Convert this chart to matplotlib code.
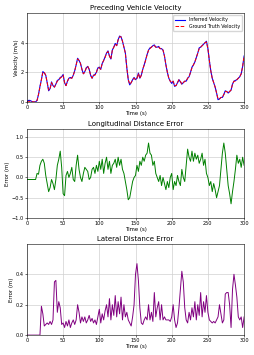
import matplotlib
matplotlib.use('Agg')
import matplotlib.pyplot as plt
import numpy as np

# time axis, 2 s steps
time_s = np.arange(0, 301, 2)

# preceding vehicle velocity (m/s)
vel_truth = [0.0, 0.0, 0.05, 0.05, 0.0, 0.0, 0.0, 0.1, 0.5, 1.0,
             1.5, 2.0, 2.0, 1.8, 1.3, 0.8, 0.9, 1.3, 1.1, 1.0,
             1.2, 1.4, 1.5, 1.6, 1.7, 1.8, 1.3, 1.1, 1.4, 1.6,
             1.6, 1.6, 1.8, 2.1, 2.5, 2.9, 2.8, 2.6, 2.2, 1.9,
             2.0, 2.3, 2.4, 2.2, 1.8, 1.6, 1.8, 1.8, 2.0, 2.3,
             2.3, 2.2, 2.6, 2.8, 3.0, 3.3, 3.4, 3.1, 2.9, 3.5,
             3.7, 3.9, 3.8, 4.2, 4.4, 4.4, 4.1, 3.7, 3.3, 2.3,
             1.5, 1.2, 1.3, 1.5, 1.6, 1.5, 1.6, 1.9, 1.6, 1.8,
             2.2, 2.5, 2.8, 3.2, 3.5, 3.6, 3.7, 3.8, 3.8, 3.7,
             3.7, 3.7, 3.6, 3.6, 3.5, 3.1, 2.5, 2.0, 1.6, 1.4,
             1.3, 1.4, 1.1, 1.1, 1.3, 1.5, 1.4, 1.2, 1.3, 1.4,
             1.4, 1.6, 1.7, 2.0, 2.3, 2.5, 2.7, 3.0, 3.3, 3.6,
             3.7, 3.8, 3.9, 4.0, 4.05, 3.6, 2.8, 2.1, 1.6, 1.3,
             1.0, 0.6, 0.2, 0.2, 0.3, 0.3, 0.5, 0.7, 0.7, 0.6,
             0.7, 0.8, 1.2, 1.4, 1.4, 1.5, 1.6, 1.7, 1.9, 2.4,
             3.1]
vel_inferred = [0.0, 0.1, 0.1, 0.05, 0.0, 0.0, 0.0, 0.1, 0.5, 1.05,
                1.5, 2.05, 1.95, 1.8, 1.3, 0.75, 0.9, 1.35, 1.1, 1.0,
                1.2, 1.45, 1.5, 1.65, 1.7, 1.85, 1.3, 1.1, 1.4, 1.6,
                1.65, 1.6, 1.8, 2.1, 2.5, 2.95, 2.8, 2.6, 2.2, 1.9,
                2.05, 2.3, 2.4, 2.2, 1.8, 1.6, 1.8, 1.85, 2.0, 2.3,
                2.35, 2.2, 2.6, 2.8, 3.05, 3.3, 3.45, 3.1, 2.9, 3.5,
                3.7, 3.95, 3.8, 4.2, 4.45, 4.4, 4.1, 3.7, 3.3, 2.3,
                1.5, 1.15, 1.3, 1.5, 1.65, 1.5, 1.6, 1.95, 1.6, 1.8,
                2.2, 2.5, 2.85, 3.2, 3.5, 3.65, 3.7, 3.8, 3.85, 3.7,
                3.7, 3.75, 3.6, 3.6, 3.5, 3.1, 2.5, 2.0, 1.6, 1.4,
                1.25, 1.4, 1.05, 1.1, 1.3, 1.5, 1.35, 1.2, 1.3, 1.4,
                1.4, 1.6, 1.7, 2.0, 2.35, 2.5, 2.7, 3.0, 3.3, 3.65,
                3.7, 3.8, 3.9, 4.0, 4.1, 3.6, 2.8, 2.1, 1.6, 1.3,
                1.0, 0.6, 0.15, 0.2, 0.3, 0.3, 0.5, 0.75, 0.7, 0.6,
                0.7, 0.8, 1.2, 1.4, 1.45, 1.5, 1.6, 1.7, 1.9, 2.4,
                3.1]

# longitudinal distance error (m)
lon_err = [-0.05, -0.05, -0.05, -0.05, -0.05, -0.05, -0.05, 0.1, 0.08, 0.3,
           0.4, 0.45, 0.35, 0.05, -0.15, -0.35, -0.25, -0.05, -0.15, -0.3,
           -0.05, 0.3, 0.45, 0.65, 0.25, -0.4, -0.45, 0.05, 0.15, 0.0,
           0.1, 0.25, -0.05, -0.1, 0.3, 0.55, 0.2, 0.0, -0.1, 0.1,
           0.25, 0.2, 0.15, -0.05, 0.0, 0.2, 0.25, 0.1, 0.3, 0.15,
           0.4, 0.2, 0.45, 0.1, 0.35, 0.5, 0.2, 0.4, 0.1, 0.3,
           0.35, 0.45, 0.25, 0.5, 0.3, 0.45, 0.2, 0.1, -0.1, -0.3,
           -0.55, -0.5, -0.3, -0.1, 0.0, 0.05, 0.3, 0.15, 0.4, 0.3,
           0.5, 0.4, 0.55, 0.6, 0.85, 0.6, 0.55, 0.3, 0.4, 0.1,
           0.0, -0.1, 0.05, -0.2, 0.0, -0.15, -0.3, -0.1, -0.25, 0.0,
           0.1, -0.3, -0.1, -0.2, 0.05, -0.1, -0.2, 0.2, 0.0, -0.1,
           0.3, 0.7, 0.5, 0.4, 0.65, 0.4, 0.6, 0.45, 0.55, 0.35,
           0.45, 0.6, 0.3, 0.45, 0.1, 0.0, -0.2, -0.1, -0.35, -0.15,
           -0.3, -0.5, -0.35, -0.2, 0.2, 0.6, 0.85, 0.6, 0.2, -0.2,
           -0.4, -0.65, -0.35, -0.1, 0.2, 0.55, 0.35, 0.45, 0.25, 0.5,
           0.3]

# lateral distance error (m)
lat_err = [0.0, 0.0, 0.0, 0.0, 0.0, 0.0, 0.0, 0.0, 0.0, 0.0,
           0.19, 0.14, 0.06, 0.07, 0.08, 0.07, 0.09, 0.07, 0.1, 0.35,
           0.36, 0.15, 0.22, 0.18, 0.07, 0.08, 0.05, 0.09, 0.06, 0.1,
           0.05, 0.08, 0.1, 0.07, 0.1, 0.2, 0.15, 0.08, 0.12, 0.09,
           0.12, 0.08, 0.1, 0.13, 0.09, 0.11, 0.08, 0.1, 0.07, 0.12,
           0.17, 0.08, 0.14, 0.1, 0.16, 0.2, 0.12, 0.24, 0.1, 0.2,
           0.13, 0.26, 0.12, 0.22, 0.14, 0.25, 0.1, 0.2, 0.12, 0.15,
           0.1, 0.08, 0.06, 0.12, 0.2, 0.4, 0.47, 0.36, 0.18, 0.08,
           0.07, 0.1, 0.12, 0.1, 0.2, 0.1, 0.15, 0.09, 0.28, 0.12,
           0.18, 0.22, 0.1, 0.2, 0.1, 0.12, 0.1, 0.1, 0.1, 0.09,
           0.12, 0.2, 0.1, 0.05, 0.08, 0.18, 0.3, 0.42, 0.35, 0.18,
           0.1, 0.08, 0.15, 0.1, 0.18, 0.12, 0.22, 0.1, 0.2, 0.13,
           0.28, 0.12, 0.22, 0.15, 0.26, 0.15, 0.1, 0.09, 0.08, 0.09,
           0.08, 0.1, 0.12, 0.2, 0.14, 0.08, 0.1, 0.27, 0.28, 0.28,
           0.2, 0.05, 0.3, 0.4, 0.33, 0.25, 0.12, 0.1, 0.12, 0.05,
           0.12]

fs_title = 5.0
fs_label = 3.9
fs_tick = 3.6
fs_legend = 3.4

fig = plt.figure(figsize=(2.54, 3.55), dpi=100)
ax1 = fig.add_axes([0.106, 0.713, 0.855, 0.25])
ax2 = fig.add_axes([0.106, 0.386, 0.855, 0.251])
ax3 = fig.add_axes([0.106, 0.056, 0.855, 0.257])

ax1.plot(time_s, vel_inferred, color='blue', lw=0.8, label='Inferred Velocity')
ax1.plot(time_s, vel_truth, color='red', lw=0.7, ls='--', label='Ground Truth Velocity')
ax1.set_ylim(0, 6)
ax1.set_yticks([0, 2, 4])
ax1.set_ylabel('Velocity (m/s)', fontsize=fs_label, labelpad=1)
ax1.set_title('Preceding Vehicle Velocity', fontsize=fs_title, pad=2)
ax1.legend(loc='upper right', fontsize=fs_legend, handlelength=2.2,
           borderpad=0.4, labelspacing=0.3, framealpha=0.8)

ax2.plot(time_s, lon_err, color='green', lw=0.7)
ax2.set_ylim(-1.0, 1.2)
ax2.set_yticks([-1.0, -0.5, 0.0, 0.5, 1.0])
ax2.set_ylabel('Error (m)', fontsize=fs_label, labelpad=1)
ax2.set_title('Longitudinal Distance Error', fontsize=fs_title, pad=2)

ax3.plot(time_s, lat_err, color='purple', lw=0.7)
ax3.set_ylim(0, 0.6)
ax3.set_yticks([0.0, 0.2, 0.4])
ax3.set_ylabel('Error (m)', fontsize=fs_label, labelpad=1)
ax3.set_title('Lateral Distance Error', fontsize=fs_title, pad=2)

for ax in (ax1, ax2, ax3):
    ax.set_xlim(0, 300)
    ax.set_xticks([0, 50, 100, 150, 200, 250, 300])
    ax.set_xlabel('Time (s)', fontsize=fs_label, labelpad=0.5)
    ax.tick_params(labelsize=fs_tick, length=1.5, width=0.4, pad=0.8)
    ax.grid(True, color='#d0d0d0', lw=0.5)
    for sp in ax.spines.values():
        sp.set_linewidth(0.4)

fig.savefig('out.png', dpi=100)
